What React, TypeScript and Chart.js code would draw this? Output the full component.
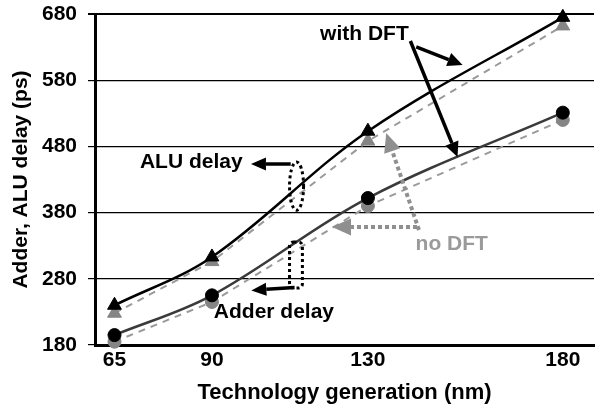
import React, { useEffect, useRef } from 'react';
import { Chart, registerables } from 'chart.js';

Chart.register(...registerables);

// ---- data ----
const generations = [65, 90, 130, 180];
const aluWithDft = [240, 313, 503, 675];
const aluNoDft = [228, 306, 488, 662];
const adderWithDft = [195, 255, 402, 531];
const adderNoDft = [185, 245, 390, 520];
const yTicks = [180, 280, 380, 480, 580, 680];

const FONT = '"Liberation Sans", Arial, Helvetica, sans-serif';

const toPoints = (ys: number[]) => generations.map((g, i) => ({ x: g, y: ys[i] }));

function drawArrow(
  ctx: CanvasRenderingContext2D,
  a: number[],
  b: number[],
  color: string,
  lw: number,
  dash: number[],
  headLen: number,
  headW: number
) {
  const [x1, y1] = a;
  const [x2, y2] = b;
  const ang = Math.atan2(y2 - y1, x2 - x1);
  const bx = x2 - headLen * Math.cos(ang);
  const by = y2 - headLen * Math.sin(ang);
  ctx.save();
  ctx.strokeStyle = color;
  ctx.lineWidth = lw;
  ctx.setLineDash(dash);
  ctx.beginPath();
  ctx.moveTo(x1, y1);
  ctx.lineTo(bx, by);
  ctx.stroke();
  ctx.setLineDash([]);
  ctx.fillStyle = color;
  ctx.beginPath();
  ctx.moveTo(x2, y2);
  ctx.lineTo(bx + (headW / 2) * Math.sin(ang), by - (headW / 2) * Math.cos(ang));
  ctx.lineTo(bx - (headW / 2) * Math.sin(ang), by + (headW / 2) * Math.cos(ang));
  ctx.closePath();
  ctx.fill();
  ctx.restore();
}

const annotationPlugin = {
  id: 'annotations',
  afterDraw(chart: any) {
    const { ctx, scales } = chart;
    const xs = scales.x;
    const ys = scales.y;
    const P = (vx: number, vy: number) => [xs.getPixelForValue(vx), ys.getPixelForValue(vy)];

    ctx.save();
    ctx.font = `bold 21px ${FONT}`;
    ctx.textAlign = 'center';
    ctx.textBaseline = 'middle';
    const texts = [
      { t: 'with DFT', at: P(129.1, 651), c: '#000' },
      { t: 'ALU delay', at: P(84.7, 458), c: '#000' },
      { t: 'Adder delay', at: P(105.9, 230.6), c: '#000' },
      { t: 'no DFT', at: P(151.5, 333.3), c: '#9a9a9a' },
    ];
    texts.forEach(({ t, at, c }) => {
      ctx.fillStyle = c;
      ctx.fillText(t, at[0], at[1] + 1);
    });
    ctx.restore();

    // black arrows
    drawArrow(ctx, P(142.4, 630.2), P(154.3, 603), '#000', 3.5, [], 15, 14);
    drawArrow(ctx, P(140.9, 639.2), P(153.0, 464), '#000', 3.5, [], 15, 14);
    drawArrow(ctx, P(110.2, 453.4), P(100.0, 453.4), '#000', 3.5, [], 15, 13);
    drawArrow(ctx, P(111.2, 267), P(100.1, 262.5), '#000', 3.5, [], 15, 13);

    // gray dotted arrows
    drawArrow(ctx, P(142.6, 358.2), P(120.8, 358.2), '#8f8f8f', 4, [4, 3], 19, 17);
    drawArrow(ctx, P(143.1, 353.7), P(134.7, 500.2), '#8f8f8f', 4, [4, 3], 19, 17);

    // dotted brackets
    ctx.save();
    ctx.strokeStyle = '#000';
    ctx.lineWidth = 3;
    ctx.setLineDash([3, 3]);
    const e1 = P(111.7, 420);
    const e1top = P(111.7, 456.4);
    const e1left = P(109.9, 420);
    ctx.beginPath();
    ctx.ellipse(e1[0], e1[1], e1[0] - e1left[0], e1[1] - e1top[1], 0, 0, Math.PI * 2);
    ctx.stroke();
    const r1 = P(109.9, 335.6);
    const r2 = P(113.2, 266.1);
    ctx.beginPath();
    (ctx as any).roundRect(r1[0], r1[1], r2[0] - r1[0], r2[1] - r1[1], 4);
    ctx.stroke();
    ctx.restore();
  },
};

export default function App() {
  const ref = useRef<HTMLCanvasElement | null>(null);

  useEffect(() => {
    if (!ref.current) return;
    const tickFont = { family: FONT, size: 21, weight: 'bold' as const };
    const chart = new Chart(ref.current, {
      type: 'line',
      data: {
        datasets: [
          {
            label: 'ALU delay with DFT',
            data: toPoints(aluWithDft),
            borderColor: '#000',
            borderWidth: 2.5,
            tension: 0.35,
            pointStyle: 'triangle',
            pointRadius: 8,
            pointBackgroundColor: '#000',
            pointBorderColor: '#000',
            pointBorderWidth: 1,
            clip: 10,
          },
          {
            label: 'Adder delay with DFT',
            data: toPoints(adderWithDft),
            borderColor: '#3a3a3a',
            borderWidth: 2.5,
            tension: 0.35,
            pointStyle: 'circle',
            pointRadius: 6.5,
            pointBackgroundColor: '#000',
            pointBorderColor: '#000',
            pointBorderWidth: 1,
            clip: 10,
          },
          {
            label: 'ALU delay no DFT',
            data: toPoints(aluNoDft),
            borderColor: '#9a9a9a',
            borderWidth: 2,
            borderDash: [7, 6],
            tension: 0,
            pointStyle: 'triangle',
            pointRadius: 8,
            pointBackgroundColor: '#858585',
            pointBorderColor: '#858585',
            pointBorderWidth: 1,
            clip: 10,
          },
          {
            label: 'Adder delay no DFT',
            data: toPoints(adderNoDft),
            borderColor: '#9a9a9a',
            borderWidth: 2,
            borderDash: [7, 6],
            tension: 0,
            pointStyle: 'circle',
            pointRadius: 6.5,
            pointBackgroundColor: '#858585',
            pointBorderColor: '#858585',
            pointBorderWidth: 1,
            clip: 10,
          },
        ],
      },
      options: {
        animation: false,
        responsive: false,
        events: [],
        layout: { padding: { top: 14, right: 3, left: 0, bottom: 0 } },
        plugins: { legend: { display: false }, tooltip: { enabled: false } },
        scales: {
          x: {
            type: 'linear',
            min: 60,
            max: 188,
            afterBuildTicks: (s: any) => {
              s.ticks = generations.map((v) => ({ value: v }));
            },
            afterFit: (s: any) => {
              s.height = 63;
              s.paddingLeft = 0;
              s.paddingRight = 0;
            },
            grid: { display: false, drawTicks: false },
            border: { display: true, color: '#000', width: 3 },
            ticks: { color: '#000', font: tickFont, padding: 3, maxRotation: 0 },
            title: {
              display: true,
              text: 'Technology generation (nm)',
              color: '#000',
              font: { family: FONT, size: 22, weight: 'bold' },
              padding: { top: 0, bottom: 2 },
            },
          },
          y: {
            type: 'linear',
            min: 180,
            max: 680,
            afterBuildTicks: (s: any) => {
              s.ticks = yTicks.map((v) => ({ value: v }));
            },
            afterFit: (s: any) => {
              s.width = 95;
              s.paddingTop = 0;
              s.paddingBottom = 0;
            },
            grid: {
              color: '#000',
              lineWidth: (c: any) => (c.tick && c.tick.value === 680 ? 2 : 1.2),
              tickLength: 7,
              drawTicks: true,
            },
            border: { display: true, color: '#000', width: 3 },
            ticks: { color: '#000', font: tickFont, padding: 11 },
            title: {
              display: true,
              text: 'Adder, ALU delay (ps)',
              color: '#000',
              font: { family: FONT, size: 21, weight: 'bold' },
              padding: { top: 9, bottom: 0 },
            },
          },
        },
      },
      plugins: [annotationPlugin],
    } as any);
    return () => chart.destroy();
  }, []);

  return (
    <div style={{ position: 'fixed', left: 0, top: 0, width: 603, height: 408, background: '#fff' }}>
      <canvas ref={ref} width={603} height={408} style={{ display: 'block', width: 603, height: 408 }} />
    </div>
  );
}
